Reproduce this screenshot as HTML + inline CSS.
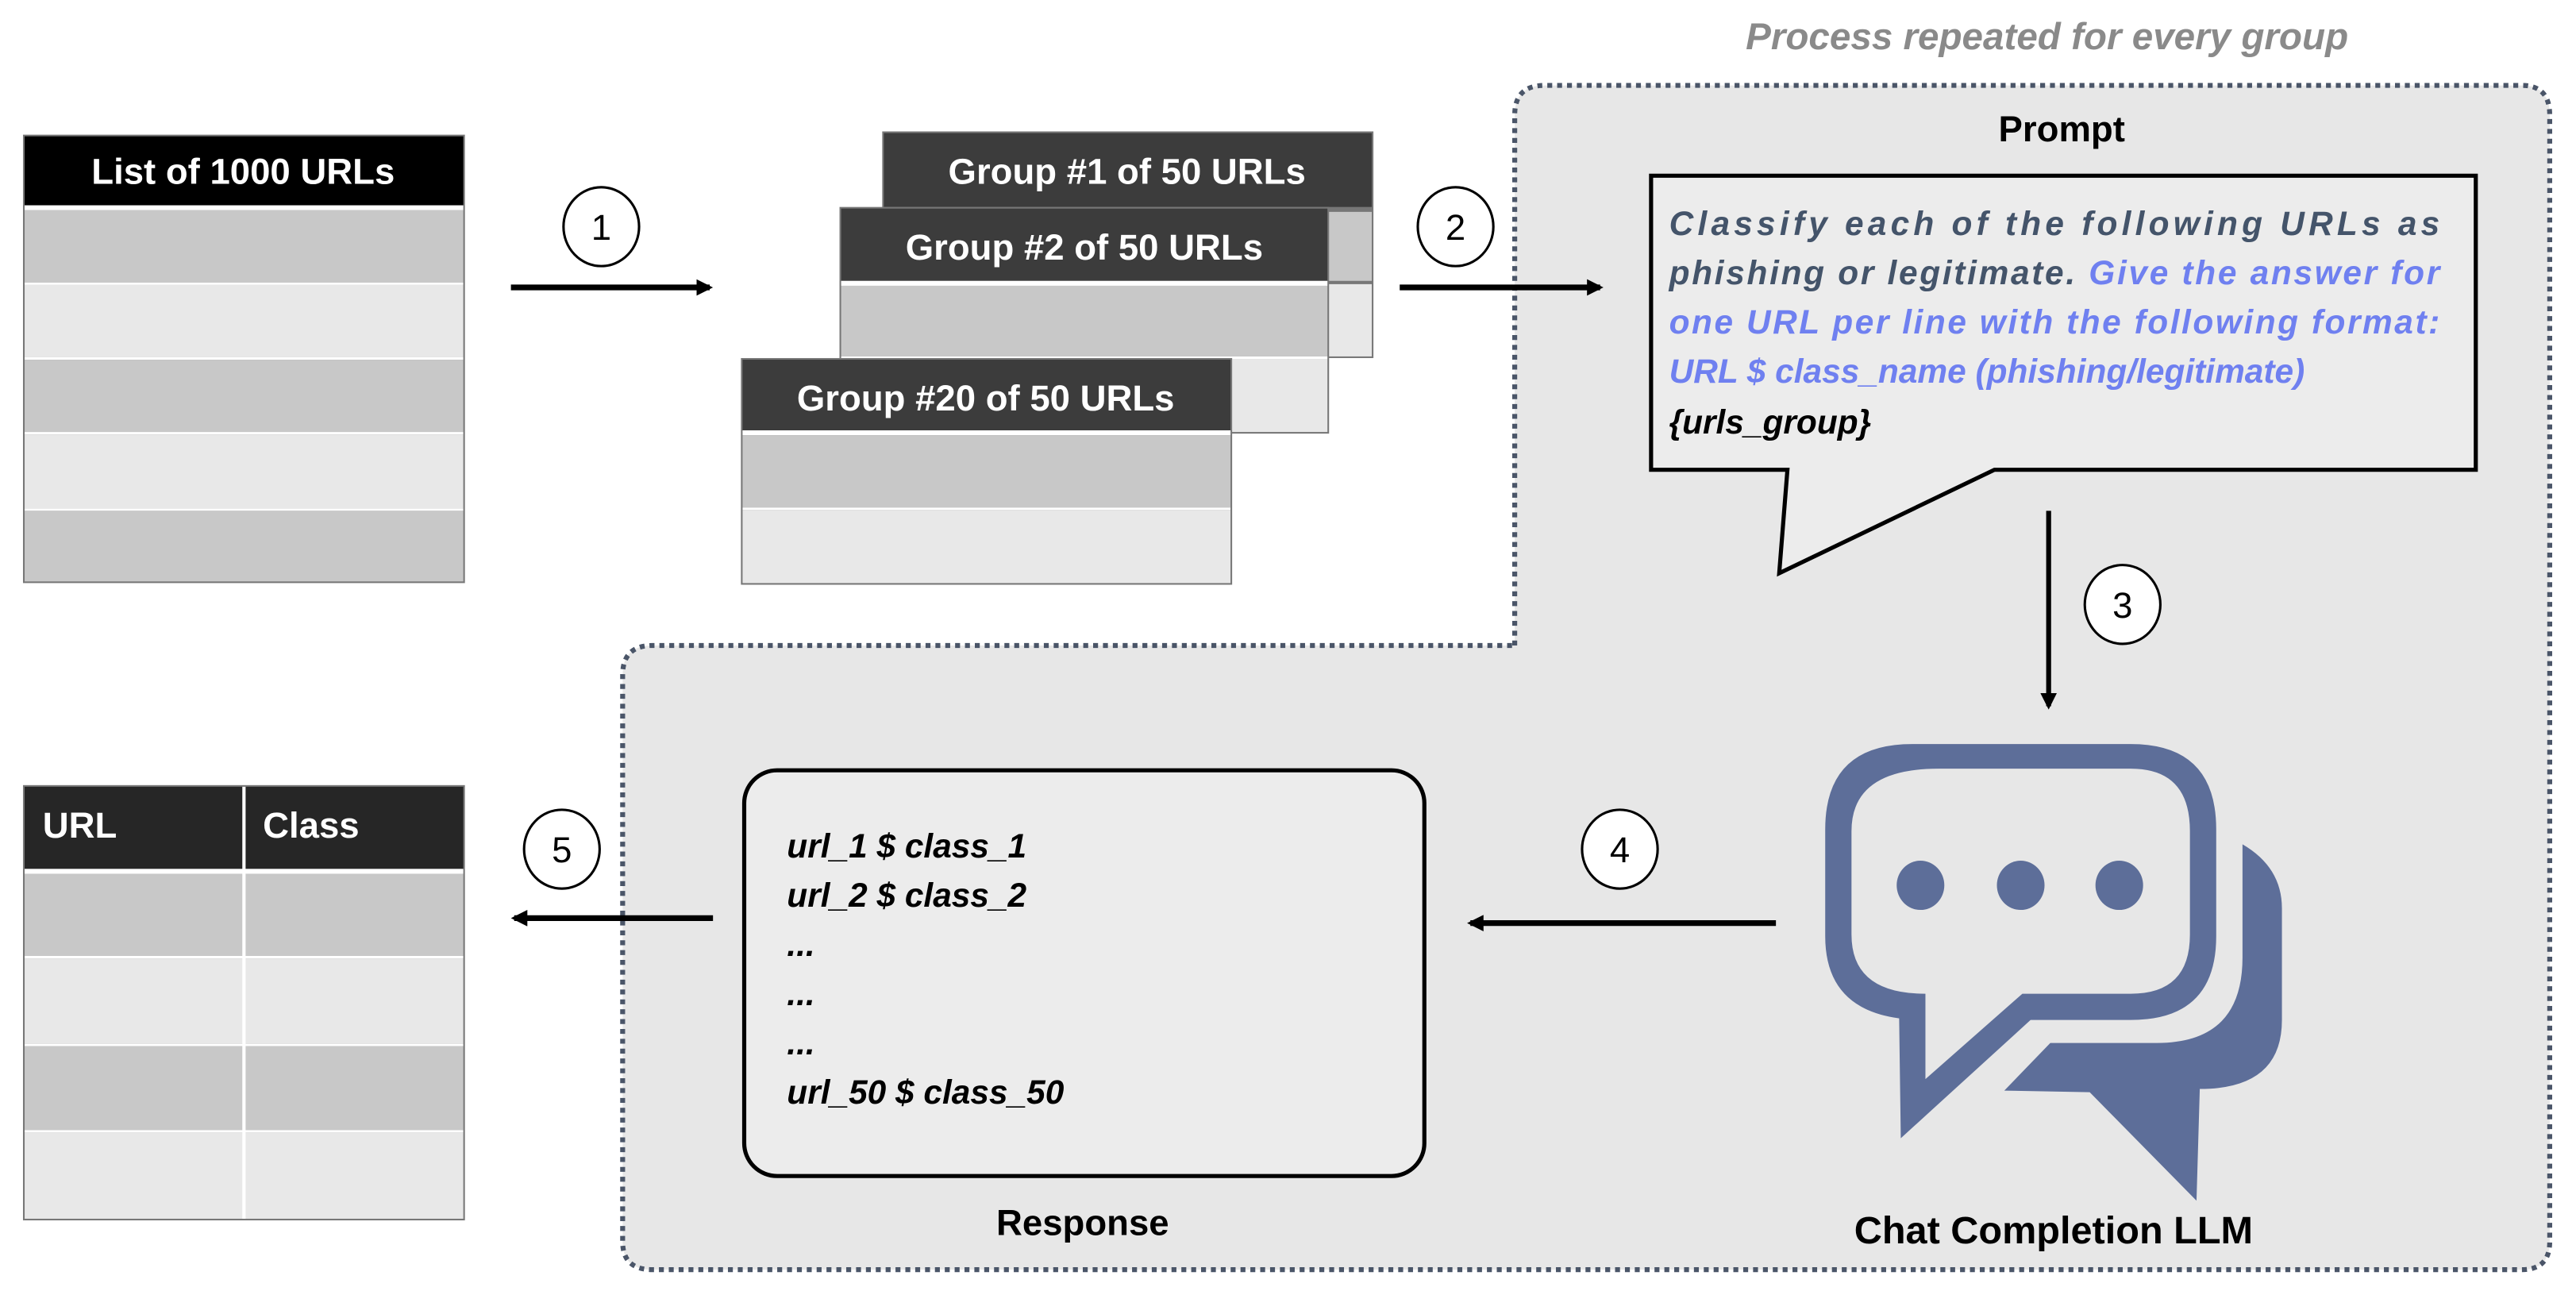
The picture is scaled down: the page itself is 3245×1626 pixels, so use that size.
<!DOCTYPE html>
<html><head><meta charset="utf-8"><style>
html,body{margin:0;padding:0;background:#fff;}
svg{display:block;}
text{font-family:"Liberation Sans",sans-serif;font-weight:bold;}
</style></head><body>
<svg width="3245" height="1626" viewBox="0 0 1568 786" preserveAspectRatio="none" xmlns="http://www.w3.org/2000/svg">
<defs>
<marker id="ah" markerWidth="10" markerHeight="10" refX="8" refY="5" orient="auto" markerUnits="userSpaceOnUse">
<path d="M0,0 L10,5 L0,10 z" fill="#000"/></marker>
</defs>
<rect width="1568" height="786" fill="#fff"/>
<path d="M922,393 L922,70 Q922,52 940,52 L1535,52 Q1552,52 1552,70 L1552,756 Q1552,773 1535,773 L397,773 Q379,773 379,756 L379,411 Q379,393 397,393 Z" fill="#e7e7e7" stroke="#4a5568" stroke-width="3" stroke-dasharray="3,3"/>
<text x="1246" y="30" font-size="23" font-style="italic" fill="#8a8a8a" text-anchor="middle">Process repeated for every group</text>

<!-- left table -->
<rect x="14" y="82" width="269" height="273" fill="#777"/>
<rect x="15" y="83" width="267" height="42" fill="#000"/>
<rect x="15" y="125" width="267" height="3" fill="#fff"/>
<rect x="15" y="128" width="267" height="44" fill="#c8c8c8"/>
<rect x="15" y="172" width="267" height="1.5" fill="#fff"/>
<rect x="15" y="173.5" width="267" height="44" fill="#e8e8e8"/>
<rect x="15" y="217.5" width="267" height="1.5" fill="#fff"/>
<rect x="15" y="219" width="267" height="44" fill="#c8c8c8"/>
<rect x="15" y="263" width="267" height="1.5" fill="#fff"/>
<rect x="15" y="264.5" width="267" height="45" fill="#e8e8e8"/>
<rect x="15" y="309.5" width="267" height="1.5" fill="#fff"/>
<rect x="15" y="311" width="267" height="43" fill="#c8c8c8"/>
<text x="148" y="112" font-size="22" fill="#fff" text-anchor="middle">List of 1000 URLs</text>

<line x1="311" y1="175" x2="432" y2="175" stroke="#000" stroke-width="3.5" marker-end="url(#ah)"/>
<ellipse cx="366" cy="138" rx="23" ry="24" fill="#fff" stroke="#000" stroke-width="1.5"/>
<text x="366" y="146" font-size="22" style="font-weight:normal" text-anchor="middle">1</text>

<!-- groups -->
<rect x="537" y="80" width="299" height="138" fill="#777"/>
<rect x="538" y="81" width="297" height="45" fill="#3c3c3c"/>
<rect x="538" y="129" width="297" height="42" fill="#c8c8c8"/>
<rect x="538" y="173" width="297" height="44" fill="#e8e8e8"/>
<text x="686" y="112" font-size="22" fill="#fff" text-anchor="middle">Group #1 of 50 URLs</text>

<rect x="511" y="126" width="298" height="138" fill="#777"/>
<rect x="512" y="127" width="296" height="44" fill="#3c3c3c"/>
<rect x="512" y="171" width="296" height="3" fill="#fff"/>
<rect x="512" y="174" width="296" height="43" fill="#c8c8c8"/>
<rect x="512" y="217" width="296" height="1.5" fill="#fff"/>
<rect x="512" y="218.5" width="296" height="44.5" fill="#e8e8e8"/>
<text x="660" y="158" font-size="22" fill="#fff" text-anchor="middle">Group #2 of 50 URLs</text>

<rect x="451" y="218" width="299" height="138" fill="#777"/>
<rect x="452" y="219" width="297" height="43" fill="#3c3c3c"/>
<rect x="452" y="262" width="297" height="3" fill="#fff"/>
<rect x="452" y="265" width="297" height="44" fill="#c8c8c8"/>
<rect x="452" y="309" width="297" height="1.5" fill="#fff"/>
<rect x="452" y="310.5" width="297" height="44.5" fill="#e8e8e8"/>
<text x="600" y="250" font-size="22" fill="#fff" text-anchor="middle">Group #20 of 50 URLs</text>

<line x1="852" y1="175" x2="974" y2="175" stroke="#000" stroke-width="3.5" marker-end="url(#ah)"/>
<ellipse cx="886" cy="138" rx="23" ry="24" fill="#fff" stroke="#000" stroke-width="1.5"/>
<text x="886" y="146" font-size="22" style="font-weight:normal" text-anchor="middle">2</text>

<!-- prompt -->
<text x="1255" y="86" font-size="22" text-anchor="middle">Prompt</text>
<path d="M1005,107 L1507,107 L1507,286 L1214,286 L1083,349 L1088,286 L1005,286 Z" fill="#ececec" stroke="#000" stroke-width="2.5"/>
<g font-size="20.5" font-style="italic">
<text x="1016" y="143" fill="#44546a" textLength="469" lengthAdjust="spacing">Classify each of the following URLs as</text>
<text x="1016" y="173" textLength="469" lengthAdjust="spacing"><tspan fill="#44546a">phishing or legitimate. </tspan><tspan fill="#6f80f0">Give the answer for</tspan></text>
<text x="1016" y="203" fill="#6f80f0" textLength="469" lengthAdjust="spacing">one URL per line with the following format:</text>
<text x="1016" y="233" fill="#6f80f0">URL $ class_name (phishing/legitimate)</text>
<text x="1016" y="264" fill="#000">{urls_group}</text>
</g>

<line x1="1247" y1="311" x2="1247" y2="430" stroke="#000" stroke-width="3" marker-end="url(#ah)"/>
<ellipse cx="1292" cy="368" rx="23" ry="24" fill="#fff" stroke="#000" stroke-width="1.5"/>
<text x="1292" y="376" font-size="22" style="font-weight:normal" text-anchor="middle">3</text>

<!-- chat icon -->
<path fill-rule="evenodd" fill="#5d6e99" d="M1164,453 L1297,453 Q1349,453 1349,505 L1349,570 Q1349,621 1297,621 L1236,621 L1157,693 L1156,620 Q1111,614 1111,570 L1111,505 Q1111,453 1164,453 Z
M1180,468 Q1127,468 1127,506 L1127,569 Q1127,605 1172,605 L1172,657 L1231,605 L1297,605 Q1333,605 1333,569 L1333,506 Q1333,468 1297,468 Z"/>
<ellipse cx="1169" cy="539" rx="14.5" ry="15" fill="#5d6e99"/>
<ellipse cx="1230" cy="539" rx="14.5" ry="15" fill="#5d6e99"/>
<ellipse cx="1290" cy="539" rx="14.5" ry="15" fill="#5d6e99"/>
<path fill="#5d6e99" d="M1365,514 Q1389,528 1389,553 L1389,621 Q1389,663 1339,663 L1337,731 L1272,665 L1220,664 L1248,635 L1313,635 Q1365,635 1365,583 Z"/>
<text x="1250" y="757" font-size="23.5" text-anchor="middle">Chat Completion LLM</text>

<line x1="1081" y1="562" x2="895" y2="562" stroke="#000" stroke-width="3.5" marker-end="url(#ah)"/>
<ellipse cx="986" cy="517" rx="23" ry="24" fill="#fff" stroke="#000" stroke-width="1.5"/>
<text x="986" y="525" font-size="22" style="font-weight:normal" text-anchor="middle">4</text>

<!-- response -->
<rect x="453" y="469" width="414" height="247" rx="20" fill="#ececec" stroke="#000" stroke-width="2.5"/>
<g font-size="20.5" font-style="italic" fill="#000">
<text x="479" y="522">url_1 $ class_1</text>
<text x="479" y="552">url_2 $ class_2</text>
<text x="479" y="582">...</text>
<text x="479" y="612">...</text>
<text x="479" y="642">...</text>
<text x="479" y="672">url_50 $ class_50</text>
</g>
<text x="659" y="752" font-size="22" text-anchor="middle">Response</text>

<line x1="434" y1="559" x2="313" y2="559" stroke="#000" stroke-width="3.5" marker-end="url(#ah)"/>
<ellipse cx="342" cy="517" rx="23" ry="24" fill="#fff" stroke="#000" stroke-width="1.5"/>
<text x="342" y="525" font-size="22" style="font-weight:normal" text-anchor="middle">5</text>

<!-- right table -->
<rect x="14" y="478" width="269" height="265" fill="#777"/>
<rect x="15" y="479" width="267" height="50" fill="#262626"/>
<rect x="15" y="529" width="267" height="3" fill="#fff"/>
<rect x="15" y="532" width="267" height="50" fill="#c8c8c8"/>
<rect x="15" y="582" width="267" height="1.5" fill="#fff"/>
<rect x="15" y="583.5" width="267" height="52" fill="#e8e8e8"/>
<rect x="15" y="635.5" width="267" height="1.5" fill="#fff"/>
<rect x="15" y="637" width="267" height="51" fill="#c8c8c8"/>
<rect x="15" y="688" width="267" height="1.5" fill="#fff"/>
<rect x="15" y="689.5" width="267" height="52.5" fill="#e8e8e8"/>
<line x1="148.5" y1="479" x2="148.5" y2="742" stroke="#fff" stroke-width="2"/>
<text x="26" y="510" font-size="22" fill="#fff">URL</text>
<text x="160" y="510" font-size="22" fill="#fff">Class</text>
</svg>
</body></html>
